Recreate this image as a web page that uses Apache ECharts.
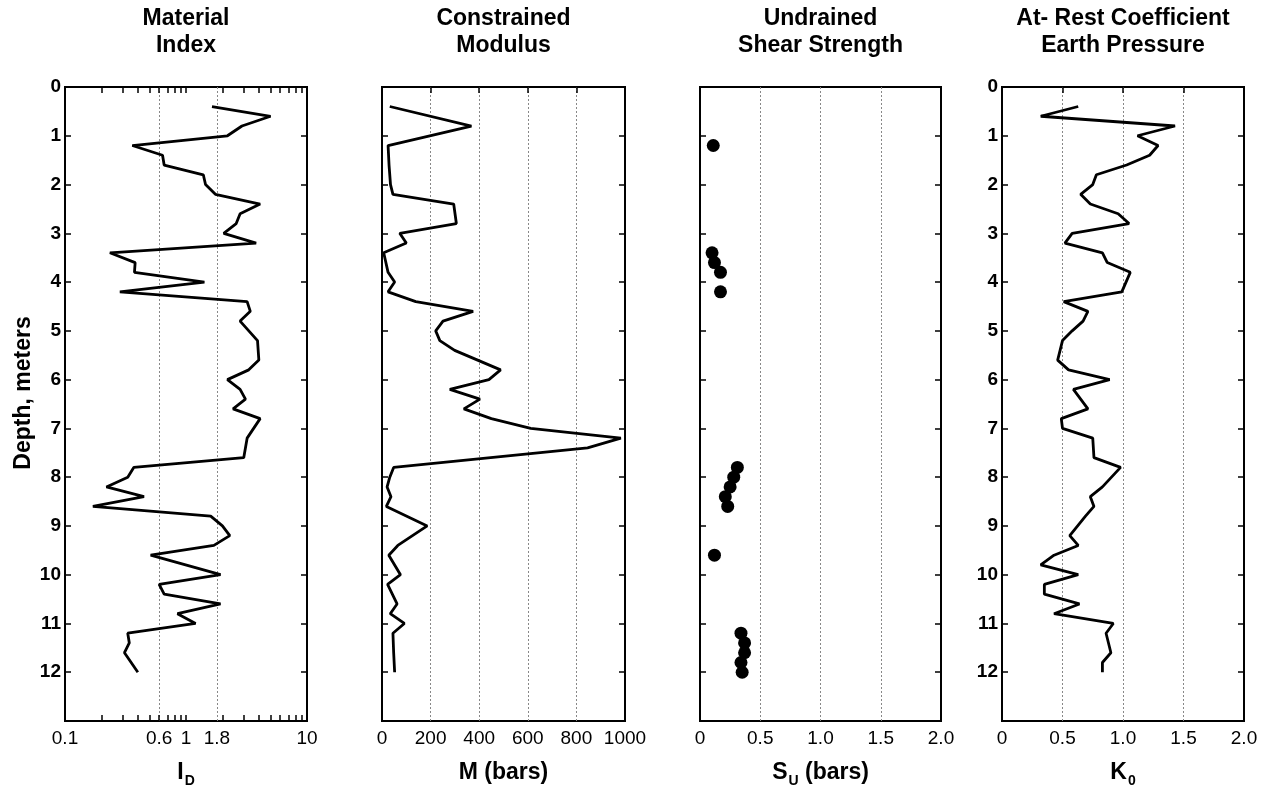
<!DOCTYPE html>
<html><head><meta charset="utf-8">
<script src="https://cdn.jsdelivr.net/npm/echarts@6/dist/echarts.min.js"></script>
<style>html,body{margin:0;padding:0;background:#fff}#c{width:1264px;height:787px}</style>
</head><body><div id="c"></div>
<script>
// ---- Data ----
const depthID = [0.4,0.6,0.8,1.0,1.2,1.4,1.6,1.8,2.0,2.2,2.4,2.6,2.8,3.0,3.2,3.4,3.6,3.8,4.0,4.2,4.4,4.6,4.8,5.2,5.6,5.8,6.0,6.2,6.4,6.6,6.8,7.2,7.6,7.8,8.0,8.2,8.4,8.6,8.8,9.0,9.2,9.4,9.6,10.0,10.2,10.4,10.6,10.8,11.0,11.2,11.4,11.6,12.0];
const materialIndex = [1.64,5.0,2.9,2.2,0.36,0.64,0.66,1.39,1.45,1.75,4.1,2.8,2.6,2.05,3.8,0.235,0.38,0.375,1.42,0.284,3.2,3.4,2.8,3.9,4.0,3.3,2.2,2.8,3.1,2.45,4.1,3.2,3.0,0.37,0.33,0.22,0.45,0.17,1.6,2.0,2.3,1.7,0.51,1.93,0.6,0.66,1.93,0.85,1.2,0.33,0.34,0.31,0.4];

const depthM = [0.4,0.8,1.2,1.6,2.0,2.2,2.4,2.8,3.0,3.2,3.4,3.8,4.0,4.2,4.4,4.6,4.8,5.0,5.2,5.4,5.8,6.0,6.2,6.4,6.6,6.8,7.0,7.2,7.4,7.8,8.0,8.2,8.4,8.6,9.0,9.4,9.6,10.0,10.2,10.6,10.8,11.0,11.2,11.6,12.0];
const modulus = [32,368,25,29,35,45,295,306,73,100,7,25,52,25,139,375,251,221,238,299,488,440,279,403,337,450,612,983,846,48,32,21,37,18,186,65,28,76,23,62,34,92,45,48,52];

const depthSu = [1.2,3.4,3.6,3.8,4.2,7.8,8.0,8.2,8.4,8.6,9.6,11.2,11.4,11.6,11.8,12.0];
const shearStrength = [0.11,0.10,0.12,0.17,0.17,0.31,0.28,0.25,0.21,0.23,0.12,0.34,0.37,0.37,0.34,0.35];

const depthK = [0.4,0.6,0.8,1.0,1.2,1.4,1.6,1.8,2.0,2.2,2.4,2.6,2.8,3.0,3.2,3.4,3.6,3.8,4.2,4.4,4.6,4.8,5.0,5.2,5.4,5.6,5.8,6.0,6.2,6.6,6.8,7.0,7.2,7.6,7.8,8.2,8.4,8.6,8.8,9.2,9.4,9.6,9.8,10.0,10.2,10.4,10.6,10.8,11.0,11.2,11.6,11.8,12.0];
const k0 = [0.63,0.32,1.43,1.12,1.29,1.22,1.03,0.78,0.75,0.65,0.73,0.96,1.05,0.58,0.52,0.83,0.87,1.06,0.99,0.51,0.71,0.67,0.58,0.5,0.48,0.46,0.55,0.89,0.59,0.71,0.49,0.5,0.75,0.76,0.98,0.83,0.73,0.76,0.69,0.56,0.63,0.43,0.32,0.63,0.35,0.35,0.64,0.43,0.92,0.86,0.9,0.83,0.83];

// tick labels / grid values
const labelsID = [0.1, 0.6, 1, 1.8, 10];
const gridID = [0.6, 1.8];
const minorID = [0.2,0.3,0.4,0.5,0.6,0.7,0.8,0.9,1,2,3,4,5,6,7,8,9];
const labelsM = [0, 200, 400, 600, 800, 1000];
const gridM = [200, 400, 600, 800];
const labelsSu = [0, 0.5, 1.0, 1.5, 2.0];
const gridSu = [0.5, 1.0, 1.5];
const labelsK = [0, 0.5, 1.0, 1.5, 2.0];
const gridK = [0.5, 1.0, 1.5];
const depthLabels = [0,1,2,3,4,5,6,7,8,9,10,11,12];
const depthTicks = [1,2,3,4,5,6,7,8,9,10,11,12];

const titles = ['Material\nIndex', 'Constrained\nModulus', 'Undrained\nShear Strength', 'At- Rest Coefficient\nEarth Pressure'];

// ---- Layout ----
const FONT = "'Liberation Sans', Arial, Helvetica, sans-serif";
const TOP = 87, HEIGHT = 634;
const fmt1 = v => v === 0 ? '0' : v.toFixed(1);
const panels = [
  {left:65, width:242, type:'log', min:0.1, max:10, labels:labelsID, grid:gridID, topTicks:minorID, bottomTicks:minorID, fmt:v=>String(v), yLabels:true, name:'{m|I}{s|D}',
   x:materialIndex, y:depthID, kind:'line'},
  {left:382, width:243, type:'value', min:0, max:1000, labels:labelsM, grid:gridM, topTicks:gridM, bottomTicks:null, fmt:v=>String(v), yLabels:false, name:'{m|M (bars)}',
   x:modulus, y:depthM, kind:'line'},
  {left:700, width:241, type:'value', min:0, max:2, labels:labelsSu, grid:gridSu, topTicks:null, bottomTicks:null, fmt:fmt1, yLabels:false, name:'{m|S}{s|U}{m| (bars)}',
   x:shearStrength, y:depthSu, kind:'scatter'},
  {left:1002, width:242, type:'value', min:0, max:2, labels:labelsK, grid:gridK, topTicks:gridK, bottomTicks:null, fmt:fmt1, yLabels:true, name:'{m|K}{s|0}',
   x:k0, y:depthK, kind:'line'}
];

const TL = 6;
const tickStyle = {color:'#000', width:1.5};
const noLine = {show:false, onZero:false};
const grids = [], xAxes = [], yAxes = [], series = [];
panels.forEach((p, i) => {
  grids.push({left:p.left, top:TOP, width:p.width, height:HEIGHT, show:true, borderColor:'#000', borderWidth:2,
    backgroundColor:'transparent', containLabel:false, outerBoundsMode:'none'});
  // bottom axis: labels + name
  xAxes.push({gridIndex:i, type:p.type, min:p.min, max:p.max, position:'bottom',
    axisLine:noLine, splitLine:{show:false},
    axisTick: p.bottomTicks ? {show:true, inside:true, length:TL, customValues:p.bottomTicks, lineStyle:tickStyle} : {show:false},
    axisLabel:{customValues:p.labels, formatter:p.fmt, color:'#000', fontSize:19, fontFamily:FONT, margin:8},
    name:p.name, nameLocation:'middle', nameGap:35,
    nameTextStyle:{rich:{
      m:{fontSize:23, fontWeight:'bold', color:'#000', fontFamily:FONT, lineHeight:28, verticalAlign:'bottom'},
      s:{fontSize:14, fontWeight:'bold', color:'#000', fontFamily:FONT, lineHeight:14, verticalAlign:'bottom', padding:[0,0,-4,1]}
    }}
  });
  // top axis: ticks + panel title
  xAxes.push({gridIndex:i, type:p.type, min:p.min, max:p.max, position:'top',
    axisLine:noLine, splitLine:{show:false}, axisLabel:{show:false},
    axisTick: p.topTicks ? {show:true, inside:true, length:TL, customValues:p.topTicks, lineStyle:tickStyle} : {show:false},
    name:titles[i], nameLocation:'middle', nameGap:28,
    nameTextStyle:{fontSize:23, fontWeight:'bold', lineHeight:27, color:'#000', fontFamily:FONT}
  });
  // dotted gridline axis
  xAxes.push({gridIndex:i, type:p.type, min:p.min, max:p.max, position:'bottom',
    axisLine:noLine, axisLabel:{show:false}, axisTick:{show:false, customValues:p.grid},
    splitLine:{show:true, lineStyle:{type:[2,2], color:'#888', width:1}}
  });
  yAxes.push({gridIndex:i, type:'value', inverse:true, min:0, max:13, interval:1, position:'left',
    axisLine:noLine, splitLine:{show:false},
    axisTick:{show:true, inside:true, length:TL, customValues:depthTicks, lineStyle:tickStyle},
    axisLabel:{show:p.yLabels, customValues:depthLabels, formatter:v=>String(v), color:'#000', fontSize:19, fontWeight:'bold', fontFamily:FONT, margin:4},
    name: i === 0 ? 'Depth, meters' : '', nameLocation:'middle', nameRotate:90, nameGap:30,
    nameTextStyle:{fontSize:23, fontWeight:'bold', color:'#000', fontFamily:FONT, padding:[0,0,0,22]}
  });
  yAxes.push({gridIndex:i, type:'value', inverse:true, min:0, max:13, interval:1, position:'right',
    axisLine:noLine, splitLine:{show:false}, axisLabel:{show:false},
    axisTick:{show:true, inside:true, length:TL, customValues:depthTicks, lineStyle:tickStyle}
  });
  const data = p.x.map((v, k) => [v, p.y[k]]);
  if (p.kind === 'line') {
    series.push({type:'line', xAxisIndex:3*i, yAxisIndex:2*i, data, symbol:'none', silent:true,
      lineStyle:{color:'#000', width:2.8}, z:5});
  } else {
    series.push({type:'scatter', xAxisIndex:3*i, yAxisIndex:2*i, data, symbol:'circle', symbolSize:13, silent:true,
      itemStyle:{color:'#000', opacity:1}, z:5});
  }
});

const chart = echarts.init(document.getElementById('c'), null, {renderer:'canvas'});
chart.setOption({animation:false, backgroundColor:'#fff', textStyle:{fontFamily:FONT},
  grid:grids, xAxis:xAxes, yAxis:yAxes, series});
</script></body></html>
